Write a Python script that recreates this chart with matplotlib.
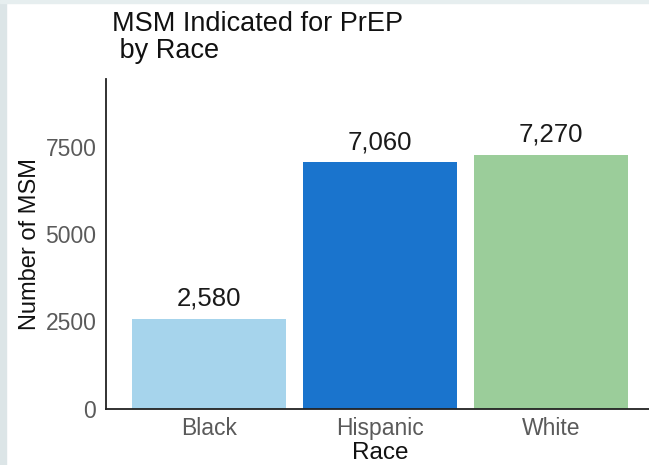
import numpy as np
import matplotlib.pyplot as plt
import matplotlib.patches as mpatches

races = ["Black", "Hispanic", "White"]
msm_counts = [2580, 7060, 7270]
bar_labels = ["2,580", "7,060", "7,270"]
bar_colors = ["#a6d4ec", "#1a74cd", "#9bcd9a"]
y_ticks = [0, 2500, 5000, 7500]

plt.rcParams['font.family'] = ['Liberation Sans', 'DejaVu Sans']

fig = plt.figure(figsize=(6.49, 4.65), dpi=100)
# light frame strips along left and top edge
fig.patches.append(mpatches.Rectangle((0, 0), 6 / 649, 1, transform=fig.transFigure,
                                      color="#dce5e7", zorder=0))
fig.patches.append(mpatches.Rectangle((0, 1 - 3 / 465), 1, 3 / 465, transform=fig.transFigure,
                                      color="#e6eeef", zorder=0))

ax = fig.add_axes([106 / 649, 56.5 / 465, 548 / 649, 329.5 / 465])
x = np.arange(len(races))
bars = ax.bar(x, msm_counts, width=0.9, color=bar_colors)
for b, lab in zip(bars, bar_labels):
    ax.annotate(lab, (b.get_x() + b.get_width() / 2, b.get_height()),
                xytext=(0, 6), textcoords="offset points",
                ha="center", va="bottom", fontsize=18.5, color="#1a1a1a")

ax.set_xlim(-0.6, 2.6)
ax.set_ylim(0, max(msm_counts) * 1.3)
ax.set_xticks(x, races)
ax.set_yticks(y_ticks)
ax.tick_params(length=0, labelsize=16.5, labelcolor="#5a5a5a")
ax.tick_params(axis="y", pad=7)
ax.tick_params(axis="x", pad=6)
for s in ["top", "right"]:
    ax.spines[s].set_visible(False)
for s in ["left", "bottom"]:
    ax.spines[s].set_linewidth(1.3)
    ax.spines[s].set_color("#222222")

ax.set_xlabel("Race", fontsize=17.5, labelpad=1.5, color="#111111")
ax.set_ylabel("Number of MSM", fontsize=17, labelpad=3, color="#111111")
fig.text(112 / 649, 1 - 11 / 465, "MSM Indicated for PrEP\n by Race",
         fontsize=19.5, ha="left", va="top", linespacing=1.06, color="#111111")

fig.savefig("out.png", dpi=100)
